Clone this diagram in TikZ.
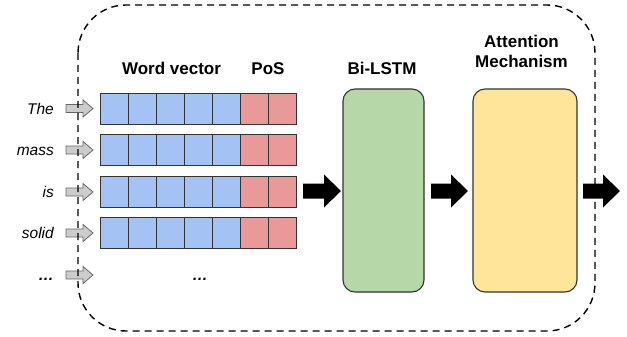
\documentclass[tikz,border=0pt]{standalone}
\usepackage{fontspec}
\setmainfont{Liberation Sans}
\definecolor{vecblue}{HTML}{A4C2F4}
\definecolor{posred}{HTML}{EA9999}
\definecolor{lstmgreen}{HTML}{B6D7A8}
\definecolor{attyellow}{HTML}{FFE599}
\definecolor{edge}{HTML}{333333}
\definecolor{arrowgray}{HTML}{CCCCCC}
\definecolor{arrowedge}{HTML}{666666}
\tikzset{
  cell/.style={draw=edge, line width=0.9pt, minimum width=28pt, minimum height=31pt,
    inner sep=0pt, outer sep=0pt},
  wordcell/.style={cell, fill=vecblue},
  poscell/.style={cell, fill=posred},
  layerbox/.style={draw=edge, line width=1.1pt, rounded corners=12pt, inner sep=0pt},
  word/.style={font=\fontsize{15.5}{18}\selectfont\itshape, anchor=base east, inner sep=0pt},
  title/.style={font=\fontsize{17}{20}\selectfont\bfseries, align=center, inner sep=0pt},
  frame/.style={draw=black, line width=1.4pt, dash pattern=on 7pt off 5pt, rounded corners=48pt},
  inarrow/.style={fill=arrowgray, draw=arrowedge, line width=0.8pt},
  flowarrow/.style={fill=black},
  pics/fatarrow/.style n args={4}{code={
    \path[pic actions] (0,-#2) -- ({#1-#4},-#2) -- ({#1-#4},-#3) -- (#1,0)
      -- ({#1-#4},#3) -- ({#1-#4},#2) -- (0,#2) -- cycle;}}
}
\newcommand{\moredots}{\textbf{…}}
\begin{document}
\begin{tikzpicture}[x=1pt,y=-1pt]
\useasboundingbox (0,0) rectangle (627,337);

% token rows: five word-vector cells followed by two PoS cells
\foreach \r/\yc in {1/108.5, 2/150, 3/192, 4/233} {
  \foreach \i in {1,...,5}
    \node[wordcell] (w\r-\i) at ({100.5+28*(\i-1)+14}, \yc) {};
  \foreach \i in {1,2}
    \node[poscell] (p\r-\i) at ({240.5+28*(\i-1)+14}, \yc) {};
}

% input words and their small arrows
\foreach \r/\yc/\txt in {1/108.5/The, 2/150/mass, 3/192/is, 4/233/solid, 5/275/\moredots} {
  \node[word] (t\r) at (54, \yc+5.5) {\txt};
  \pic[inarrow] at (66, \yc) {fatarrow={27}{4}{8.5}{10}};
}
\node[word, anchor=base] (vdots) at (200, 280.5) {\moredots};

% column headings
\node[title, anchor=base] (hvec) at (171.5, 75) {Word vector};
\node[title, anchor=base] (hpos) at (268, 75) {PoS};
\node[title, anchor=base] (hlstm) at (382, 75) {Bi-LSTM};
\node[title, anchor=base] (hatt1) at (521.5, 48) {Attention};
\node[title, anchor=base] (hatt2) at (521.5, 68) {Mechanism};

% network layers
\node[layerbox, fill=lstmgreen, minimum width=81pt, minimum height=203pt]
  (lstm) at (383.5, 190.5) {};
\node[layerbox, fill=attyellow, minimum width=104pt, minimum height=203pt]
  (att) at (525, 190.5) {};

% dashed frame around the model
\draw[frame] (78,5) rectangle (595,331);

% flow arrows between stages
\pic[flowarrow] at (303, 191) {fatarrow={38}{7.5}{16.5}{17}};
\pic[flowarrow] at (431, 191) {fatarrow={37}{7.5}{16.5}{17}};
\pic[flowarrow] at (583, 191) {fatarrow={37}{7.5}{16.5}{17}};
\end{tikzpicture}
\end{document}
